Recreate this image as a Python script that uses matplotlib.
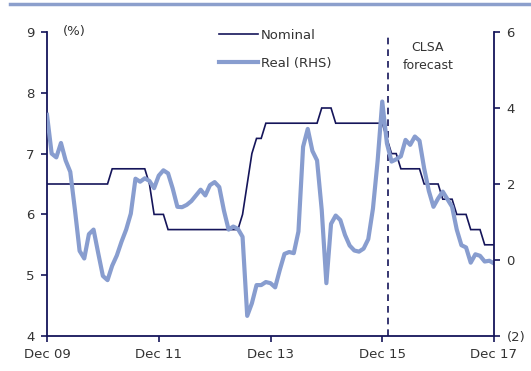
import matplotlib
matplotlib.use("Agg")
import matplotlib.pyplot as plt
from matplotlib.lines import Line2D

# Monthly observations, Dec 2009 (index 0) to Dec 2017 (index 96)
nominal = (
    [6.5] * 14                                    # Dec09 - Jan11
    + [6.75] * 8                                  # Feb11 - Sep11
    + [6.5, 6.0, 6.0, 6.0]                        # Oct11 - Jan12
    + [5.75] * 16                                 # Feb12 - May13
    + [6.0, 6.5, 7.0, 7.25, 7.25]                 # Jun13 - Oct13
    + [7.5] * 12                                  # Nov13 - Oct14
    + [7.75] * 3                                  # Nov14 - Jan15
    + [7.5] * 11                                  # Feb15 - Dec15
    + [7.25, 7.0, 7.0]                            # Jan16 - Mar16
    + [6.75] * 5
    + [6.5] * 4
    + [6.25] * 3
    + [6.0] * 3
    + [5.75] * 3
    + [5.5] * 3
)

real = [
    3.82, 2.80, 2.70, 3.08, 2.62, 2.32, 1.32, 0.24, 0.04, 0.68,
    0.80, 0.18, -0.42, -0.53, -0.15, 0.12, 0.48, 0.80, 1.22, 2.14,
    2.06, 2.15, 2.08, 1.89, 2.22, 2.36, 2.28, 1.88, 1.40, 1.39,
    1.45, 1.55, 1.70, 1.85, 1.70, 1.97, 2.05, 1.92, 1.30, 0.80,
    0.88, 0.82, 0.61, -1.47, -1.14, -0.66, -0.66, -0.58, -0.61, -0.72,
    -0.26, 0.16, 0.21, 0.18, 0.75, 2.98, 3.45, 2.87, 2.62, 1.32,
    -0.61, 0.95, 1.17, 1.05, 0.66, 0.38, 0.25, 0.22, 0.30, 0.55,
    1.35, 2.60, 4.17, 3.07, 2.59, 2.65, 2.73, 3.16, 3.03, 3.25,
    3.14, 2.41, 1.82, 1.40, 1.62, 1.80, 1.60, 1.40, 0.80, 0.39,
    0.33, -0.07, 0.15, 0.11, -0.04, -0.02, -0.09,
]

months = list(range(len(nominal)))
x_tick_pos = [0, 24, 48, 72, 96]
x_tick_labels = ["Dec 09", "Dec 11", "Dec 13", "Dec 15", "Dec 17"]
left_ticks = [4, 5, 6, 7, 8, 9]
right_ticks = [-2, 0, 2, 4, 6]
right_tick_labels = ["(2)", "0", "2", "4", "6"]
forecast_start = 73.3

navy = "#15155a"
light = "#889dcf"
text_col = "#333333"

plt.rcParams["font.family"] = ["DejaVu Sans"]

fig = plt.figure(figsize=(5.31, 3.71), dpi=100)
ax = fig.add_axes([47 / 531, 1 - 336 / 371, (494 - 47) / 531, (336 - 32) / 371])
ax2 = ax.twinx()

ax.plot(months, nominal, color=navy, lw=1.2, solid_joinstyle="miter")
ax2.plot(months, real, color=light, lw=3.0, solid_joinstyle="round")
ax.axvline(forecast_start, color=navy, lw=1.2, ls=(0, (4, 3)), ymax=0.985)

ax.set_xlim(0, 96)
ax.set_ylim(4, 9)
ax2.set_ylim(-2, 6)
ax.set_xticks(x_tick_pos)
ax.set_xticklabels(x_tick_labels)
ax.set_yticks(left_ticks)
ax2.set_yticks(right_ticks)
ax2.set_yticklabels(right_tick_labels)

for a in (ax, ax2):
    a.spines["top"].set_visible(False)
    for s in ("left", "right", "bottom"):
        a.spines[s].set_color(navy)
        a.spines[s].set_linewidth(1.3)
    a.tick_params(colors=navy, labelcolor=text_col, labelsize=9.5,
                  width=1.2, length=4, direction="out", pad=5)
ax.spines["right"].set_visible(False)
ax2.spines["left"].set_visible(False)
ax2.spines["bottom"].set_visible(False)

ax.text(0.035, 1.0, "(%)", transform=ax.transAxes, fontsize=9.5,
        color=text_col, va="center", ha="left")
ax.text(81.8, 8.59, "CLSA\nforecast", fontsize=9, color=text_col,
        ha="center", va="center", linespacing=1.5)

handles = [Line2D([], [], color=navy, lw=1.2),
           Line2D([], [], color=light, lw=3.0)]
fig.legend(handles, ["Nominal", "Real (RHS)"], loc="upper left",
           bbox_to_anchor=(207 / 531, 1 - 17 / 371), frameon=False,
           fontsize=9.5, handlelength=3.0, handletextpad=0.2,
           labelspacing=1.15, labelcolor=text_col)

# header rule
fig.add_artist(Line2D([10 / 531, 1.0], [1 - 4 / 371, 1 - 4 / 371],
                      color="#8c9fcc", lw=2.5, transform=fig.transFigure))

fig.savefig("out.png", dpi=100)
